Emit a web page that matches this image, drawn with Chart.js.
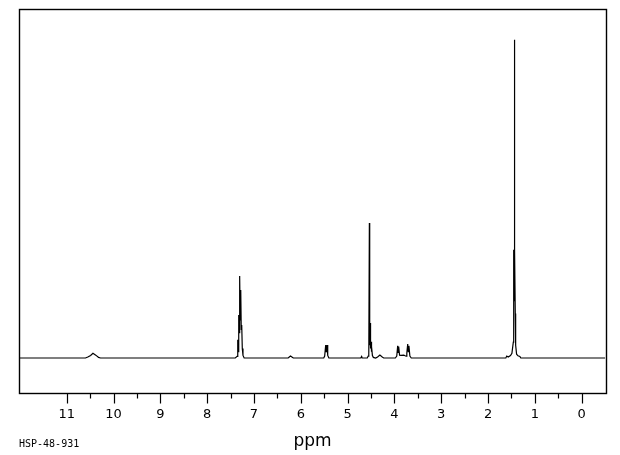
<!DOCTYPE html>
<html>
<head>
<meta charset="utf-8">
<script src="https://cdn.jsdelivr.net/npm/chart.js@4/dist/chart.umd.min.js"></script>
<style>
    html, body { margin: 0; padding: 0; background: #fff; }
    canvas { display: block; }
</style>
</head>
<body>
<canvas id="nmrChart" width="620" height="455"></canvas>
<script>
// chemical shifts (ppm) and relative intensities
const shifts = [
    12.0, 10.60, 10.55, 10.49, 10.44, 10.38, 10.32, 10.28,
    7.40, 7.36, 7.347, 7.34, 7.326, 7.315, 7.306, 7.295, 7.283, 7.272, 7.262, 7.25, 7.235, 7.21,
    6.27, 6.24, 6.22, 6.19, 6.16,
    5.51, 5.49, 5.468, 5.455, 5.44, 5.425, 5.40,
    4.72, 4.70, 4.69,
    4.58, 4.56, 4.55, 4.545, 4.535, 4.528, 4.52, 4.51, 4.50, 4.493, 4.485, 4.47, 4.45,
    4.40, 4.36, 4.31, 4.26, 4.23,
    3.98, 3.95, 3.93, 3.92, 3.909, 3.89, 3.86, 3.80, 3.77, 3.75, 3.735, 3.716, 3.703, 3.69, 3.67, 3.64,
    1.62, 1.60, 1.57, 1.52, 1.49, 1.46, 1.452, 1.445, 1.44, 1.433, 1.427, 1.418, 1.41, 1.39, 1.36, 1.32, 1.30,
    -0.5
];
const intensities = [
    0, 0, 0.3, 0.8, 1.5, 0.9, 0.2, 0,
    0, 0.5, 5.7, 2, 13.5, 8, 25.8, 12, 21.4, 9, 10.4, 3, 0.8, 0,
    0, 0.4, 0.6, 0.3, 0,
    0, 0.6, 4.1, 1.8, 4.1, 0.8, 0,
    0, 0.5, 0,
    0, 0.6, 1.6, 0.8, 42.4, 4, 11, 3, 5.1, 2, 3.6, 0.8, 0.2,
    0, 0.3, 0.9, 0.3, 0,
    0, 0.6, 3.8, 1.8, 3.6, 0.9, 0.8, 0.9, 0.7, 0.6, 1.5, 4.4, 2, 3.8, 0.6, 0,
    0, 0.6, 0.3, 0.8, 1.5, 5, 34, 18, 100, 22, 34, 14, 4, 1.2, 0.7, 0.5, 0,
    0
];

const majorTicks = [11, 10, 9, 8, 7, 6, 5, 4, 3, 2, 1, 0];
const minorTicks = [10.5, 9.5, 8.5, 7.5, 6.5, 5.5, 4.5, 3.5, 2.5, 1.5, 0.5];
const axisTitle = "ppm";
const sampleCode = "HSP-48-931";

const points = shifts.map((x, i) => ({ x: x, y: intensities[i] }));

const frameAxis = {
    id: "frameAxis",
    afterDraw(chart) {
        const ctx = chart.ctx;
        const area = chart.chartArea;
        const xScale = chart.scales.x;

        ctx.save();
        ctx.strokeStyle = "#000";
        ctx.lineWidth = 1.4;
        ctx.strokeRect(Math.round(area.left) + 0.5, Math.round(area.top) + 0.5,
            Math.round(area.right - area.left), Math.round(area.bottom - area.top));

        const bottom = Math.round(area.bottom) + 0.5;
        ctx.lineWidth = 1.2;
        ctx.beginPath();
        majorTicks.forEach(v => {
            const px = Math.round(xScale.getPixelForValue(v)) + 0.5;
            ctx.moveTo(px, bottom);
            ctx.lineTo(px, bottom + 10);
        });
        minorTicks.forEach(v => {
            const px = Math.round(xScale.getPixelForValue(v)) + 0.5;
            ctx.moveTo(px, bottom);
            ctx.lineTo(px, bottom + 5);
        });
        ctx.stroke();

        ctx.fillStyle = "#000";
        ctx.font = "13px 'DejaVu Sans'";
        ctx.textAlign = "center";
        ctx.textBaseline = "middle";
        majorTicks.forEach(v => {
            ctx.fillText(String(v), xScale.getPixelForValue(v), area.bottom + 22);
        });

        ctx.font = "17px 'DejaVu Sans'";
        ctx.fillText(axisTitle, (area.left + area.right) / 2, area.bottom + 49);

        ctx.font = "10px 'DejaVu Sans Mono'";
        ctx.textAlign = "left";
        ctx.fillText(sampleCode, 19, area.bottom + 51);
        ctx.restore();
    }
};

new Chart(document.getElementById("nmrChart").getContext("2d"), {
    type: "line",
    data: {
        datasets: [{
            data: points,
            borderColor: "#000",
            borderWidth: 1.2,
            pointRadius: 0,
            tension: 0,
            fill: false
        }]
    },
    options: {
        responsive: false,
        animation: false,
        layout: {
            padding: { left: 19, right: 14, top: 9, bottom: 62 }
        },
        scales: {
            x: {
                type: "linear",
                reverse: true,
                min: -0.52,
                max: 12.02,
                display: false
            },
            y: {
                min: -11,
                max: 109.7,
                display: false
            }
        },
        plugins: {
            legend: { display: false },
            tooltip: { enabled: false }
        }
    },
    plugins: [frameAxis]
});
</script>
</body>
</html>
